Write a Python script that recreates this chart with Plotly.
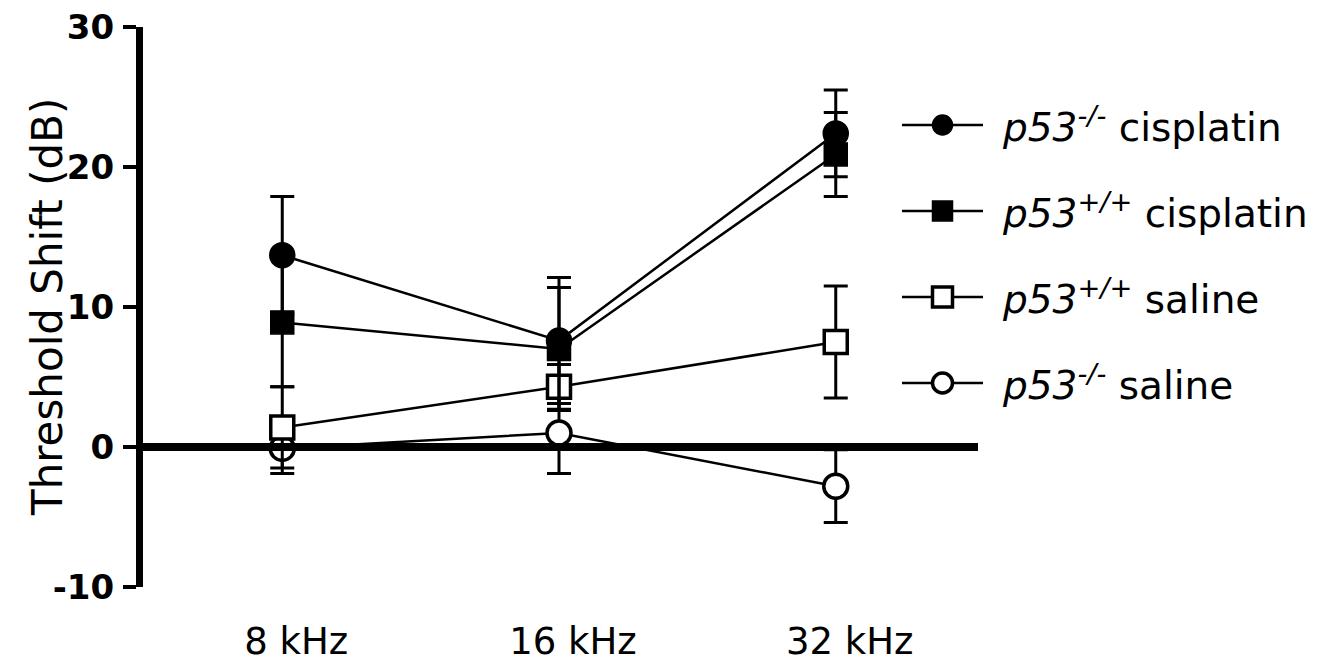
import plotly.graph_objects as go

# ---- data ----
freqs = ["8 kHz", "16 kHz", "32 kHz"]

ko_cis = [13.7, 7.6, 22.4]
ko_cis_err = [4.2, 4.5, 3.1]

wt_cis = [8.9, 7.0, 20.9]
wt_cis_err = [4.6, 4.4, 3.0]

wt_sal = [1.4, 4.3, 7.5]
wt_sal_err = [2.9, 1.6, 4.0]

ko_sal = [-0.1, 1.0, -2.8]
ko_sal_err = [1.8, 2.9, 2.6]

legend_labels = [
    "<i>p53<sup>-/-</sup></i> cisplatin",
    "<i>p53<sup>+/+</sup></i> cisplatin",
    "<i>p53<sup>+/+</sup></i> saline",
    "<i>p53<sup>-/-</sup></i> saline",
]
y_ticks = [-10, 0, 10, 20, 30]
y_tick_text = ["-10", "0", "10", "20", "30"]

FONT = "DejaVu Sans"
BLACK = "black"

series = [
    # values, errors, symbol, fill, size
    (ko_sal, ko_sal_err, "circle", "white", 24),
    (wt_sal, wt_sal_err, "square", "white", 23),
    (ko_cis, ko_cis_err, "circle", BLACK, 25),
    (wt_cis, wt_cis_err, "square", BLACK, 23),
]

fig = go.Figure()
for vals, errs, sym, fill, sz in series:
    fig.add_trace(go.Scatter(
        x=freqs, y=vals, mode="lines+markers",
        line=dict(color=BLACK, width=2.5),
        marker=dict(symbol=sym, size=sz, color=fill,
                    line=dict(color=BLACK, width=3.5 if fill == "white" else 1.5)),
        error_y=dict(type="data", array=errs, visible=True,
                     color=BLACK, thickness=3, width=12),
        showlegend=False, hoverinfo="skip",
    ))

L = 143
plot_w = 1322 - L

# ---- custom legend glyphs (long line + marker) on helper axes ----
legend_series = [
    ("circle", BLACK, 20),
    ("square", BLACK, 20),
    ("square", "white", 20),
    ("circle", "white", 20),
]
for i, (sym, fill, sz) in enumerate(legend_series):
    row = i + 1
    fig.add_trace(go.Scatter(
        x=[0, 2], y=[row, row], mode="lines",
        line=dict(color=BLACK, width=2.5),
        xaxis="x2", yaxis="y2", showlegend=False, hoverinfo="skip"))
    fig.add_trace(go.Scatter(
        x=[1], y=[row], mode="markers",
        marker=dict(symbol=sym, size=sz, color=fill,
                    line=dict(color=BLACK, width=3.5 if fill == "white" else 1.5)),
        xaxis="x2", yaxis="y2", showlegend=False, hoverinfo="skip"))
    fig.add_annotation(
        x=(1000 - L) / plot_w, xref="paper", y=row, yref="y2",
        text=legend_labels[i], showarrow=False, xanchor="left", yanchor="middle",
        font=dict(family=FONT, size=39, color=BLACK))

# zero line
fig.add_shape(type="line", xref="x domain", yref="y", x0=0, x1=1, y0=0, y1=0,
              line=dict(color=BLACK, width=8), layer="above")

# y-axis title as annotation
fig.add_annotation(
    x=0, xref="paper", xshift=47 - L, y=10, yref="y",
    text="Threshold Shift (dB)", textangle=-90, showarrow=False,
    xanchor="center", yanchor="middle",
    font=dict(family=FONT, size=42, color=BLACK))

fig.update_layout(
    template="none",
    width=1322, height=664,
    margin=dict(l=L, r=0, t=27, b=77),
    paper_bgcolor="white", plot_bgcolor="white",
    font=dict(family=FONT, color=BLACK),
    xaxis=dict(
        type="category", range=[-0.496 - 2 / 278, 2.514],
        domain=[0, (978 - L) / plot_w], automargin=False,
        showline=False, showgrid=False, zeroline=False,
        ticks="", tickfont=dict(family=FONT, size=37, color=BLACK),
        ticklabelstandoff=29, ticklabelshift=14,
    ),
    yaxis=dict(
        range=[-10, 30], tickvals=y_ticks, ticktext=y_tick_text,
        automargin=False,
        showline=True, linewidth=7, linecolor=BLACK,
        ticks="outside", ticklen=13, tickwidth=4, tickcolor=BLACK,
        showgrid=False, zeroline=False,
        tickfont=dict(family=FONT, size=34, color=BLACK, weight="bold"),
        ticklabelstandoff=2,
    ),
    xaxis2=dict(
        domain=[(902 - L) / plot_w, (983 - L) / plot_w], range=[0, 2],
        anchor="y2", visible=False, fixedrange=True, automargin=False,
    ),
    yaxis2=dict(
        domain=[0, 1], range=[6.372, -0.1395], anchor="x2",
        visible=False, fixedrange=True, automargin=False,
    ),
)

fig.write_html("out.html")
